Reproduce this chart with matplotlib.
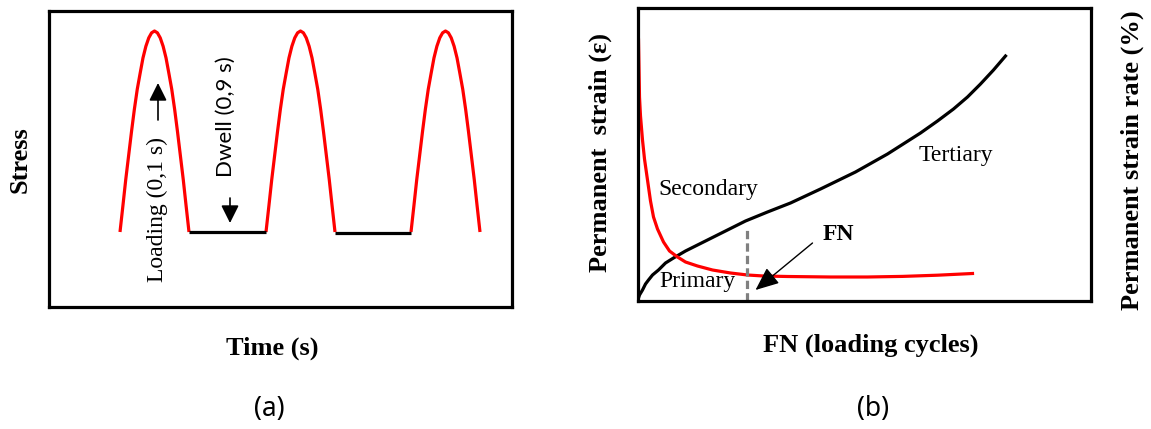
import matplotlib.pyplot as plt

W, H = 1151, 429

# ---- panel (a): loading pulses ----
pulse_start = [71, 217, 362]
pulse_width = 69
stress_base = 75
stress_peak = 276
# shape of one pulse (fraction of width, fraction of height)
pulse_pos = [0, 0.042, 0.083, 0.125, 0.167, 0.208, 0.25, 0.292, 0.333, 0.375,
             0.417, 0.458, 0.5, 0.542, 0.583, 0.625, 0.667, 0.708, 0.75,
             0.792, 0.833, 0.875, 0.917, 0.958, 1]
pulse_shape = [0, 0.13, 0.26, 0.38, 0.5, 0.61, 0.71, 0.79, 0.866, 0.924,
               0.966, 0.991, 1.0, 0.991, 0.966, 0.924, 0.866, 0.79, 0.71,
               0.61, 0.5, 0.38, 0.26, 0.13, 0]
dwell_x = [(140, 217), (286, 362)]
dwell_y = [75, 74]

# ---- panel (b): permanent strain and strain rate vs FN ----
strain_x = [0, 2, 5, 8, 11, 15, 21, 28, 36, 48, 60, 84, 108, 130, 153, 183,
            218, 250, 283, 300, 316, 330, 343, 356, 368]
strain_y = [0, 6, 11, 17, 21, 26, 31, 38, 43, 50, 56, 68, 80, 89, 98, 112,
            129, 147, 168, 180, 192, 204, 217, 231, 245]
rate_x = [1, 2, 3, 5, 7, 10, 13, 16, 20, 26, 32, 40, 48, 60, 75, 93, 110,
          126, 150, 193, 230, 265, 300, 335]
rate_y = [261, 204, 185, 161, 142, 121, 100, 84, 72, 59, 50, 44, 39, 35,
          31, 28, 26, 25, 24.5, 24, 24, 24.6, 25.8, 27.5]
fn_x = 109
fn_top = 73

serif = 'Liberation Serif'


def px_axes(fig, x0, y0, x1, y1):
  return fig.add_axes([x0 / W, 1 - y1 / H, (x1 - x0) / W, (y1 - y0) / H])


def ftext(fig, x, y, s, **kw):
  fig.text(x / W, 1 - y / H, s, ha='center', va='center', **kw)


fig = plt.figure(figsize=(W / 100, H / 100), dpi=100)

# panel (a)
ax = px_axes(fig, 49, 10.5, 512, 307)
ax.set_xlim(0, 463)
ax.set_ylim(0, 296.5)
for s in pulse_start:
  xs = [s + p * pulse_width for p in pulse_pos]
  ys = [stress_base + v * (stress_peak - stress_base) for v in pulse_shape]
  ax.plot(xs, ys, color='#ff0000', lw=2.3, solid_capstyle='butt',
          solid_joinstyle='round')
for (x0, x1), y in zip(dwell_x, dwell_y):
  ax.plot([x0, x1], [y, y], color='black', lw=2.3, solid_capstyle='butt')

ax.annotate('', xy=(109, 224), xytext=(109, 187),
            arrowprops=dict(arrowstyle='-|>,head_length=0.4,head_width=0.2',
                            mutation_scale=27, lw=1.2, color='black',
                            shrinkA=0, shrinkB=0))
ax.annotate('', xy=(181, 84), xytext=(181, 109),
            arrowprops=dict(arrowstyle='-|>,head_length=0.4,head_width=0.2',
                            mutation_scale=27, lw=1.2, color='black',
                            shrinkA=0, shrinkB=0))
ax.text(108, 97.5, 'Loading (0,1 s)', rotation=90, ha='center', va='center',
        family=serif, fontsize=17)
ax.text(177, 190, 'Dwell (0,9 s)', rotation=90, ha='center', va='center',
        family='Lato', fontsize=16)

# panel (b)
bx = px_axes(fig, 637.5, 8, 1091, 301)
bx.set_xlim(0, 453.5)
bx.set_ylim(0, 293)
bx.plot(strain_x, strain_y, color='black', lw=2.3, solid_joinstyle='round')
bx.plot(rate_x, rate_y, color='#ff0000', lw=2.3, solid_joinstyle='round')
bx.plot([fn_x, fn_x], [0, fn_top], color='#808080', lw=2.3, dashes=(2.6, 1.3))
bx.annotate('', xy=(118, 11), xytext=(175, 58),
            arrowprops=dict(arrowstyle='-|>,head_length=0.4,head_width=0.17',
                            mutation_scale=36, lw=1.0, color='black',
                            shrinkA=0, shrinkB=0))
bx.text(71, 111, 'Secondary', ha='center', va='center', family=serif, fontsize=17)
bx.text(60, 20, 'Primary', ha='center', va='center', family=serif, fontsize=17)
bx.text(318, 146, 'Tertiary', ha='center', va='center', family=serif, fontsize=17)
bx.text(201, 66, 'FN', ha='center', va='center', family=serif, fontsize=17,
        fontweight='bold')

for a in (ax, bx):
  a.set_xticks([])
  a.set_yticks([])
  for sp in a.spines.values():
    sp.set_linewidth(2.3)
    sp.set_color('black')

bold = dict(family=serif, fontsize=19, fontweight='bold')
ftext(fig, 20, 160, 'Stress', rotation=90, **bold)
ftext(fig, 272, 348, 'Time (s)', **bold)
ftext(fig, 600, 152, 'Permanent  strain (ε)', rotation=90, **bold)
ftext(fig, 1132, 160, 'Permanent strain rate (%)', rotation=90, **bold)
ftext(fig, 871, 345, 'FN (loading cycles)', **bold)
ftext(fig, 269, 409, '(a)', family='Noto Sans', fontsize=19)
ftext(fig, 873, 409, '(b)', family='Noto Sans', fontsize=19)

fig.savefig('out.png', dpi=100)
